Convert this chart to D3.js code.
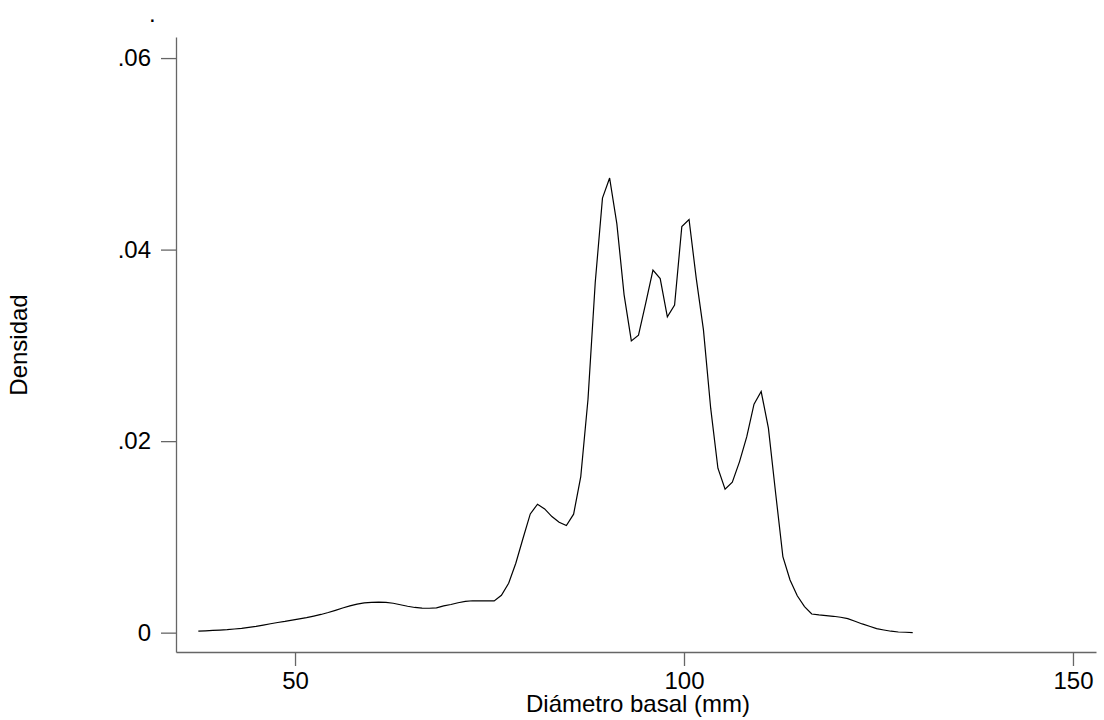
<!DOCTYPE html>
<html>
<head>
<meta charset="utf-8">
<script src="https://cdn.jsdelivr.net/npm/d3@7"></script>
<style>
  html, body { margin: 0; padding: 0; background: #fff; }
  svg { display: block; font-family: "Liberation Sans", Arial, sans-serif; }
</style>
</head>
<body>
<svg id="chart" width="1104" height="720"></svg>
<script>
// Evaluation points (mm)
const diametro = [37.57,38.50,39.43,40.35,41.28,42.21,43.14,44.06,44.99,45.92,
  46.85,47.77,48.70,49.63,50.56,51.48,52.41,53.34,54.27,55.19,
  56.12,57.05,57.98,58.90,59.83,60.76,61.69,62.62,63.54,64.47,
  65.40,66.33,67.25,68.18,69.11,70.04,70.96,71.89,72.82,73.75,
  74.67,75.60,76.53,77.46,78.38,79.31,80.24,81.17,82.09,83.02,
  83.95,84.88,85.81,86.73,87.66,88.59,89.52,90.44,91.37,92.30,
  93.23,94.15,95.08,96.01,96.94,97.86,98.79,99.72,100.65,101.57,
  102.50,103.43,104.36,105.28,106.21,107.14,108.07,109.00,109.92,110.85,
  111.78,112.71,113.63,114.56,115.49,116.42,117.34,118.27,119.20,120.13,
  121.05,121.98,122.91,123.84,124.76,125.69,126.62,127.55,128.47,129.40];
// Density values
const densidad = [.00015,.00019,.00024,.00027,.00031,.00038,.00044,.00055,.00066,.00079,
  .00093,.00106,.00117,.0013,.00143,.00157,.00173,.0019,.0021,.00233,
  .00257,.00279,.00298,.00311,.00317,.00318,.00316,.00307,.00291,.00276,
  .00263,.00256,.00255,.00258,.00279,.00294,.00312,.00326,.00333,.00331,
  .00331,.00331,.0039,.00516,.00725,.00986,.0124,.01341,.01292,.01212,
  .01153,.01118,.01237,.0163,.02438,.03656,.04538,.04747,.04269,.03528,
  .03047,.03107,.03441,.03786,.03698,.03298,.0342,.04241,.04314,.03702,
  .03162,.02344,.01717,.01498,.01571,.01786,.02047,.02386,.02518,.02135,
  .01456,.00794,.0055,.00385,.00272,.00195,.00185,.00178,.00171,.00161,
  .00146,.00119,.00091,.00067,.00042,.00028,.00015,.00007,.00004,0];
const xTicks = [50, 100, 150];
const yTicks = [0, .02, .04, .06];
const yTickLabels = ["0", ".02", ".04", ".06"];
const xTitle = "Diámetro basal (mm)";
const yTitle = "Densidad";
const title = ".";

const svg = d3.select("#chart");
const x = d3.scaleLinear().domain([34.7, 152.96]).range([176, 1096]);
const y = d3.scaleLinear().domain([-0.00202, 0.0622]).range([652, 37]);

const axisColor = "#666";
const fs = 24;

// X axis
const gx = svg.append("g").attr("transform", `translate(0,${y.range()[0]})`)
  .call(d3.axisBottom(x).tickValues(xTicks).tickSize(14).tickSizeOuter(0).tickPadding(6).tickFormat(d3.format("d")));
gx.select(".domain").attr("stroke", axisColor).attr("stroke-width", 1.3);
gx.selectAll(".tick line").attr("stroke", axisColor).attr("stroke-width", 1.3);
gx.selectAll(".tick text").attr("font-size", fs).attr("fill", "#000")
  .attr("font-family", "Liberation Sans, Arial, sans-serif");

// Y axis
const gy = svg.append("g").attr("transform", `translate(${x.range()[0]},0)`)
  .call(d3.axisLeft(y).tickValues(yTicks).tickSize(15).tickSizeOuter(0).tickPadding(10)
    .tickFormat((d, i) => yTickLabels[i]));
gy.select(".domain").attr("stroke", axisColor).attr("stroke-width", 1.3);
gy.selectAll(".tick line").attr("stroke", axisColor).attr("stroke-width", 1.3);
gy.selectAll(".tick text").attr("font-size", fs).attr("fill", "#000")
  .attr("font-family", "Liberation Sans, Arial, sans-serif");

// Curve
const data = diametro.map((d, i) => ({x: d, y: densidad[i]}));
svg.append("path").datum(data)
  .attr("fill", "none").attr("stroke", "#000").attr("stroke-width", 1.2)
  .attr("stroke-linejoin", "miter")
  .attr("d", d3.line().x(d => x(d.x)).y(d => y(d.y)));

// Titles
svg.append("text").attr("x", 638).attr("y", 712)
  .attr("text-anchor", "middle").attr("font-size", fs).text(xTitle);
svg.append("text").attr("transform", "translate(27,345) rotate(-90)")
  .attr("text-anchor", "middle").attr("font-size", fs).text(yTitle);
svg.append("text").attr("x", 149).attr("y", 22).attr("font-size", fs).text(title);
</script>
</body>
</html>
